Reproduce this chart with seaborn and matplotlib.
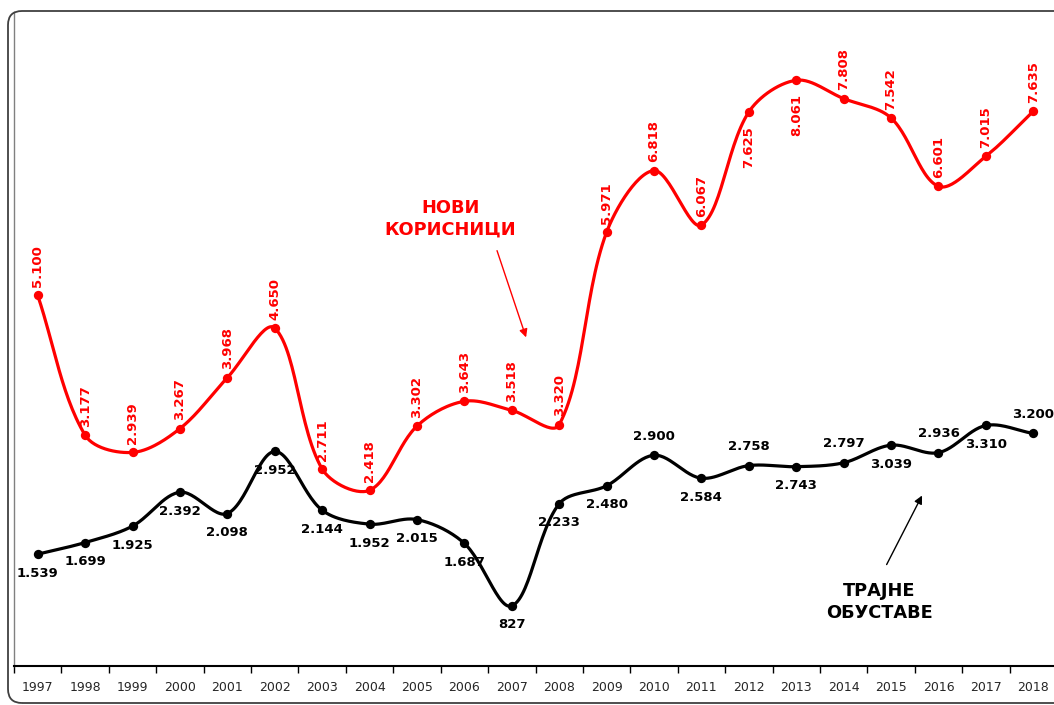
import numpy as np
import pandas as pd
import matplotlib
matplotlib.use("Agg")
import matplotlib.pyplot as plt
import seaborn as sns
from matplotlib.patches import FancyBboxPatch
from matplotlib.ticker import FixedLocator

years = [str(y) for y in range(1997, 2019)]
new_users = [5100, 3177, 2939, 3267, 3968, 4650, 2711, 2418, 3302, 3643, 3518,
             3320, 5971, 6818, 6067, 7625, 8061, 7808, 7542, 6601, 7015, 7635]
stopped = [1539, 1699, 1925, 2392, 2098, 2952, 2144, 1952, 2015, 1687, 827,
           2233, 2480, 2900, 2584, 2758, 2743, 2797, 3039, 2936, 3310, 3200]
# which labels sit on the other side of the point
new_below = ["2012", "2013"]
stopped_above = ["2010", "2012", "2014", "2016", "2018"]

RED = "#ff0000"
BLACK = "#000000"

# pixel size of one x step / one y unit, used to smooth in screen space
PX_X = 47.4
PX_Y = 654 / 9000


def fmt(v):
    return f"{v:,}".replace(",", ".")


def smooth(xs, ys, n=30):
    """Excel-like smoothed line: Bezier segments, handles scaled by segment length."""
    pts = np.column_stack([np.asarray(xs) * PX_X, np.asarray(ys) * PX_Y]).astype(float)
    m = len(pts)
    c_out, c_in = np.zeros_like(pts), np.zeros_like(pts)
    for i in range(m):
        p0 = pts[max(i - 1, 0)]
        p2 = pts[min(i + 1, m - 1)]
        d01 = np.linalg.norm(pts[i] - p0)
        d12 = np.linalg.norm(p2 - pts[i])
        tot = d01 + d12 if d01 + d12 > 0 else 1
        tan = p2 - p0
        c_out[i] = pts[i] + tan * d12 / tot / 3
        c_in[i] = pts[i] - tan * d01 / tot / 3
    t = np.linspace(0, 1, n)[:, None]
    out = []
    for i in range(m - 1):
        p0, p1, a, b = pts[i], pts[i + 1], c_out[i], c_in[i + 1]
        seg = ((1 - t) ** 3) * p0 + 3 * ((1 - t) ** 2) * t * a \
            + 3 * (1 - t) * t ** 2 * b + t ** 3 * p1
        out.append(seg if i == 0 else seg[1:])
    out = np.vstack(out)
    return out[:, 0] / PX_X, out[:, 1] / PX_Y


sns.set_style("white")
plt.rcParams["font.family"] = ["DejaVu Sans"]

fig = plt.figure(figsize=(10.54, 7.05), dpi=100)
ax = fig.add_axes([14 / 1054, 39 / 705, 1043 / 1054, 654 / 705])

df = pd.DataFrame({"year": years, "x": np.arange(len(years)),
                   "new": new_users, "stopped": stopped})

for col, color in [("new", RED), ("stopped", BLACK)]:
    sx, sy = smooth(df["x"], df[col])
    sns.lineplot(x=sx, y=sy, color=color, linewidth=2.3, sort=False,
                 estimator=None, ax=ax, zorder=2)
    sns.scatterplot(data=df, x="x", y=col, color=color, s=45,
                    edgecolor=color, linewidth=0, ax=ax, zorder=3)

# red labels: rotated, above the point (two below)
for _, r in df.iterrows():
    below = r["year"] in new_below
    ax.annotate(fmt(r["new"]), (r["x"], r["new"]),
                xytext=(0, -10 if below else 6),
                textcoords="offset points", rotation=90, ha="center",
                va="top" if below else "bottom", color=RED, fontsize=9.5,
                fontweight="bold")

# black labels: below or above the point
for _, r in df.iterrows():
    above = r["year"] in stopped_above
    ax.annotate(fmt(r["stopped"]), (r["x"], r["stopped"]),
                xytext=(0, 9 if above else -9), textcoords="offset points",
                ha="center", va="bottom" if above else "top",
                color=BLACK, fontsize=9.5, fontweight="bold")

ax.annotate("", xy=(10.32, 4486), xytext=(9.67, 5752),
            arrowprops=dict(arrowstyle="-|>", color=RED, lw=1,
                            mutation_scale=12))
ax.text(8.70, 6150, "НОВИ\nКОРИСНИЦИ", color=RED, fontsize=12.8,
        fontweight="bold", ha="center", va="center", linespacing=1.25)

ax.annotate("", xy=(18.68, 2380), xytext=(17.88, 1362),
            arrowprops=dict(arrowstyle="-|>", color=BLACK, lw=1,
                            mutation_scale=12))
ax.text(17.75, 880, "ТРАЈНЕ\nОБУСТАВЕ", color=BLACK, fontsize=12.8,
        fontweight="bold", ha="center", va="center", linespacing=1.25)

ax.set_xlim(-0.5, len(years) - 0.5)
ax.set_ylim(0, 9000)
ax.set_xticks(df["x"])
ax.set_xticklabels(years, fontsize=9)
ax.xaxis.set_minor_locator(FixedLocator(np.arange(-0.5, len(years), 1)))
ax.tick_params(axis="x", which="major", length=0, pad=11)
ax.tick_params(axis="x", which="minor", length=5, width=1, color=BLACK,
               direction="out", bottom=True)
ax.set_yticks([])
ax.set_xlabel("")
ax.set_ylabel("")
for side in ["top", "right"]:
    ax.spines[side].set_visible(False)
ax.spines["bottom"].set_color(BLACK)
ax.spines["bottom"].set_linewidth(1.5)
ax.spines["left"].set_color("#808080")
ax.spines["left"].set_linewidth(1)

border = FancyBboxPatch((8, 2), 1080, 692,
                        boxstyle="round,pad=0,rounding_size=14",
                        transform=None, fill=False, edgecolor="#404040",
                        linewidth=1.3)
fig.patches.append(border)

fig.savefig("out.png", dpi=100)
